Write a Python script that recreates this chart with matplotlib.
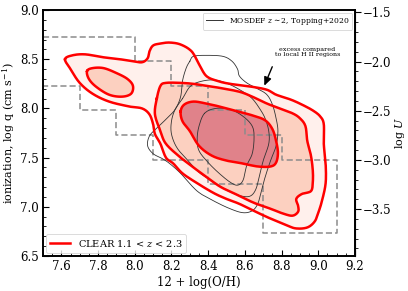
import numpy as np
import matplotlib
matplotlib.use("Agg")
import matplotlib.pyplot as plt
from matplotlib.lines import Line2D
from matplotlib.ticker import MultipleLocator, FixedLocator

plt.rcParams['font.family'] = ['DejaVu Serif']
plt.rcParams['mathtext.fontset'] = 'dejavuserif'

# ---- data (12+log(O/H), log q) ----
# CLEAR contours
clear_outer_x = [7.62, 7.66, 7.73, 7.83, 7.92, 7.99, 8.04, 8.07, 8.08, 8.10, 8.14, 8.19, 8.25, 8.31, 8.35,
                 8.39, 8.45, 8.52, 8.64, 8.72, 8.77, 8.85, 8.91, 8.97, 9.01, 9.03, 9.03, 9.04, 9.04, 9.02,
                 9.00, 8.98, 8.94, 8.88, 8.83, 8.74, 8.67, 8.57, 8.50, 8.43, 8.34, 8.26, 8.21, 8.17, 8.14,
                 8.11, 8.10, 8.08, 8.04, 7.97, 7.86, 7.77, 7.70, 7.65]
clear_outer_y = [8.50, 8.54, 8.55, 8.52, 8.50, 8.48, 8.47, 8.51, 8.58, 8.64, 8.66, 8.67, 8.65, 8.58, 8.45,
                 8.33, 8.28, 8.25, 8.22, 8.19, 8.14, 8.09, 8.04, 7.98, 7.92, 7.84, 7.64, 7.44, 7.24, 7.06,
                 6.94, 6.85, 6.79, 6.78, 6.81, 6.88, 6.94, 7.03, 7.08, 7.14, 7.24, 7.34, 7.44, 7.50, 7.64,
                 7.74, 7.84, 7.94, 8.00, 8.02, 8.07, 8.15, 8.26, 8.40]

clear_mid_x = [8.12, 8.14, 8.17, 8.25, 8.32, 8.39, 8.46, 8.57, 8.64, 8.72, 8.79, 8.86, 8.90, 8.93, 8.94,
               8.96, 8.97, 8.97, 8.96, 8.91, 8.88, 8.89, 8.89, 8.86, 8.81, 8.74, 8.65, 8.56, 8.47, 8.40,
               8.32, 8.25, 8.17, 8.14, 8.11]
clear_mid_y = [8.10, 8.23, 8.26, 8.26, 8.25, 8.23, 8.21, 8.17, 8.12, 8.05, 8.00, 7.95, 7.90, 7.82, 7.67,
               7.52, 7.37, 7.25, 7.16, 7.13, 7.08, 7.01, 6.95, 6.91, 6.93, 6.98, 7.04, 7.12, 7.20, 7.29,
               7.40, 7.50, 7.64, 7.77, 7.94]

clear_island_x = [7.74, 7.77, 7.83, 7.90, 7.96, 7.99, 7.98, 7.93, 7.86, 7.79, 7.75]
clear_island_y = [8.38, 8.41, 8.41, 8.36, 8.30, 8.23, 8.15, 8.12, 8.14, 8.22, 8.30]

clear_inner_x = [8.25, 8.27, 8.32, 8.39, 8.46, 8.56, 8.64, 8.71, 8.75, 8.77, 8.78, 8.77, 8.74, 8.67,
                 8.59, 8.50, 8.42, 8.35, 8.30, 8.26]
clear_inner_y = [7.97, 8.04, 8.07, 8.05, 8.02, 7.97, 7.93, 7.88, 7.79, 7.67, 7.55, 7.45, 7.41, 7.41,
                 7.44, 7.47, 7.52, 7.62, 7.77, 7.87]

# MOSDEF contours (Topping+2020)
mos_outer_x = [8.30, 8.32, 8.39, 8.48, 8.53, 8.56, 8.57, 8.61, 8.67, 8.72, 8.75, 8.77, 8.78, 8.77, 8.74,
               8.71, 8.69, 8.67, 8.64, 8.59, 8.52, 8.43, 8.34, 8.25, 8.19, 8.15, 8.10, 8.07, 8.08, 8.12,
               8.17, 8.22, 8.25, 8.26, 8.28]
mos_outer_y = [8.48, 8.53, 8.54, 8.53, 8.48, 8.40, 8.33, 8.26, 8.20, 8.14, 8.04, 7.90, 7.77, 7.62, 7.47,
               7.30, 7.16, 7.03, 6.96, 6.94, 6.98, 7.06, 7.16, 7.34, 7.44, 7.49, 7.54, 7.62, 7.72, 7.80,
               7.89, 7.99, 8.12, 8.28, 8.41]

mos_mid_x = [8.26, 8.30, 8.35, 8.43, 8.51, 8.59, 8.64, 8.68, 8.71, 8.73, 8.73, 8.70, 8.68, 8.66, 8.63,
             8.58, 8.51, 8.43, 8.35, 8.29, 8.23, 8.20, 8.20, 8.22]
mos_mid_y = [8.10, 8.22, 8.27, 8.29, 8.25, 8.17, 8.10, 8.00, 7.90, 7.77, 7.64, 7.47, 7.32, 7.18, 7.11,
             7.11, 7.16, 7.25, 7.35, 7.47, 7.60, 7.74, 7.87, 7.99]

mos_inner_x = [8.38, 8.44, 8.52, 8.59, 8.64, 8.65, 8.64, 8.61, 8.59, 8.56, 8.52, 8.46, 8.40, 8.35, 8.34,
               8.35]
mos_inner_y = [7.95, 8.00, 7.99, 7.92, 7.82, 7.70, 7.54, 7.42, 7.27, 7.22, 7.25, 7.34, 7.45, 7.57, 7.69,
               7.82]

# local H II region boundary (dashed steps)
hii_x = [7.5, 8.0, 8.0, 8.2, 8.2, 8.4, 8.4, 8.6, 8.6, 8.8, 8.8, 9.1, 9.1, 8.7, 8.7, 8.4, 8.4, 8.1, 8.1,
         7.9, 7.9, 7.7, 7.7, 7.5]
hii_y = [8.73, 8.73, 8.48, 8.48, 8.23, 8.23, 7.98, 7.98, 7.73, 7.73, 7.48, 7.48, 6.73, 6.73, 7.23, 7.23,
         7.48, 7.48, 7.73, 7.73, 7.98, 7.98, 8.23, 8.23]

# right-axis ticks (log U)
logu_ticks = [-3.5, -3.0, -2.5, -2.0, -1.5]

LOG_C = 10.477  # log U = log q - log c


def smooth_closed(xs, ys, n=10):
    p = np.column_stack([xs, ys]).astype(float)
    m = len(p)
    out = []
    for i in range(m):
        p0, p1, p2, p3 = p[(i - 1) % m], p[i], p[(i + 1) % m], p[(i + 2) % m]
        t = np.linspace(0, 1, n, endpoint=False)[:, None]
        pts = 0.5 * ((2 * p1) + (-p0 + p2) * t + (2 * p0 - 5 * p1 + 4 * p2 - p3) * t ** 2
                     + (-p0 + 3 * p1 - 3 * p2 + p3) * t ** 3)
        out.append(pts)
    out = np.vstack(out)
    out = np.vstack([out, out[:1]])
    return out[:, 0], out[:, 1]


fig = plt.figure(figsize=(4.08, 2.91), dpi=100)
ax = fig.add_axes([0.1054, 0.1203, 0.7647, 0.845])

red = '#ff0000'
c_outer = '#fff0ec'
c_mid = '#fcd0c0'
c_inner = '#e0828a'

ox, oy = smooth_closed(clear_outer_x, clear_outer_y)
mx, my = smooth_closed(clear_mid_x, clear_mid_y)
ix_, iy_ = smooth_closed(clear_island_x, clear_island_y)
nx, ny = smooth_closed(clear_inner_x, clear_inner_y)

ax.fill(ox, oy, color=c_outer, zorder=1, lw=0)
ax.fill(mx, my, color=c_mid, zorder=1.1, lw=0)
ax.fill(ix_, iy_, color=c_mid, zorder=1.1, lw=0)
ax.fill(nx, ny, color=c_inner, zorder=1.2, lw=0)

ax.plot(hii_x, hii_y, color='#8c8c8c', ls=(0, (4, 2)), lw=1.1, zorder=2)

for xs, ys in [(mos_outer_x, mos_outer_y), (mos_mid_x, mos_mid_y), (mos_inner_x, mos_inner_y)]:
    sx, sy = smooth_closed(xs, ys)
    ax.plot(sx, sy, color='#333333', lw=0.6, zorder=3)

for sx, sy in [(ox, oy), (mx, my), (ix_, iy_), (nx, ny)]:
    ax.plot(sx, sy, color=red, lw=1.8, zorder=4)

ax.set_xlim(7.5, 9.2)
ax.set_ylim(6.5, 9.0)
ax.xaxis.set_major_locator(MultipleLocator(0.2))
ax.xaxis.set_minor_locator(MultipleLocator(0.05))
ax.yaxis.set_major_locator(MultipleLocator(0.5))
ax.yaxis.set_minor_locator(MultipleLocator(0.1))
ax.tick_params(which='both', direction='in', right=False, top=False, labelsize=8.5)
ax.tick_params(which='major', length=4, width=0.8, pad=3)
ax.tick_params(which='minor', length=2, width=0.6)
for s in ax.spines.values():
    s.set_linewidth(1.4)
ax.set_xlabel('12 + log(O/H)', fontsize=8.5, labelpad=2)
ax.set_ylabel(r'ionization, log q (cm s$^{-1}$)', fontsize=8, labelpad=2)

sec = ax.secondary_yaxis('right', functions=(lambda q: q - LOG_C, lambda u: u + LOG_C))
sec.yaxis.set_major_locator(FixedLocator(logu_ticks))
sec.yaxis.set_minor_locator(MultipleLocator(0.1))
sec.tick_params(which='both', direction='out', labelsize=8.5)
sec.tick_params(which='major', length=4, width=0.8, pad=1.5)
sec.tick_params(which='minor', length=2, width=0.6)
sec.set_ylabel(r'log $U$', fontsize=8, labelpad=1)

# annotation
ax.text(8.94, 8.575, 'excess compared\nto local H II regions', fontsize=4.6, ha='center', va='center',
        linespacing=1.1, zorder=6)
ax.annotate('', xy=(8.70, 8.205), xytext=(8.755, 8.45),
            arrowprops=dict(arrowstyle='-|>,head_length=0.5,head_width=0.22', color='k', lw=1.0),
            zorder=6)

# legends
leg1 = ax.legend([Line2D([], [], color='#333333', lw=0.7)], [r'MOSDEF $z\sim2$, Topping+2020'],
                 loc='upper right', fontsize=5.5, frameon=True, borderpad=0.4, handlelength=2.2,
                 borderaxespad=0.35)
leg1.get_frame().set_edgecolor('#cccccc')
leg1.get_frame().set_linewidth(0.6)
leg1.set_zorder(7)
ax.add_artist(leg1)
leg2 = ax.legend([Line2D([], [], color=red, lw=1.8)], [r'CLEAR 1.1 < $z$ < 2.3'],
                 loc='lower left', fontsize=7, frameon=True, borderpad=0.4, handlelength=2.0,
                 borderaxespad=0.35)
leg2.get_frame().set_edgecolor('#cccccc')
leg2.get_frame().set_linewidth(0.6)
leg2.set_zorder(7)

fig.savefig('out.png', dpi=100)
